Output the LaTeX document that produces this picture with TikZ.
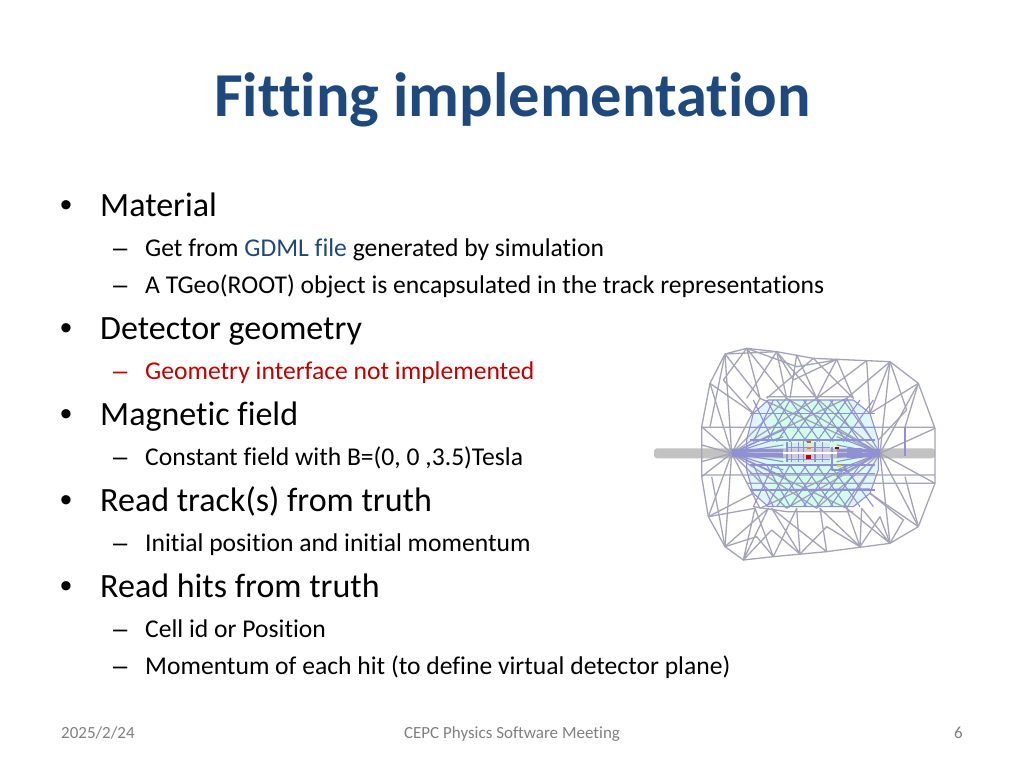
\documentclass[tikz,border=0pt]{standalone}
\usepackage{fontspec}
\setmainfont[Ligatures=NoCommon]{Carlito}
\newfontfamily\arialish{Liberation Sans}
\definecolor{titleblue}{HTML}{1F497D}
\definecolor{redtxt}{HTML}{C00000}
\definecolor{footgray}{HTML}{808080}
\definecolor{wire}{HTML}{A4A4B6}
\definecolor{wireb}{HTML}{9090D4}
\tikzset{
 titletxt/.style={anchor=base west,inner sep=0,font=\fontsize{62.5}{62.5}\selectfont\bfseries,text=titleblue},
 lvla/.style={anchor=base west,inner sep=0,font=\fontsize{34}{34}\selectfont},
 lvlb/.style={anchor=base west,inner sep=0,font=\fontsize{25.6}{25.6}\selectfont},
 bul/.style={anchor=base west,inner sep=0,font=\fontsize{34}{34}\selectfont\arialish},
 dsh/.style={anchor=base west,inner sep=0,font=\fontsize{25.6}{25.6}\selectfont\arialish},
 foot/.style={anchor=base,inner sep=0,font=\fontsize{17}{17}\selectfont,text=footgray},
 wa/.style={draw=wire,line width=1.3pt,line join=round},
 wb/.style={draw=wireb,line width=1.1pt,line join=round},
}
\begin{document}
\begin{tikzpicture}[x=1pt,y=-1pt]
\useasboundingbox (0,0) rectangle (1024,768);
\fill[white] (0,0) rectangle (1024,768);
\node[titletxt] (title) at (214,116) {Fitting implementation};
\node[bul] (b1) at (60,216) {•}; \node[lvla] (t1) at (100,216) {Material};
\node[dsh] (d11) at (113,256) {–}; \node[lvlb] (s11) at (145,256) {Get from \textcolor{titleblue}{GDML file} generated by simulation};
\node[dsh] (d12) at (113,293) {–}; \node[lvlb] (s12) at (145,293) {A TGeo(ROOT) object is encapsulated in the track representations};
\node[bul] (b2) at (60,339) {•}; \node[lvla] (t2) at (100,339) {Detector geometry};
\node[dsh,text=redtxt] (d21) at (113,379) {–}; \node[lvlb,text=redtxt] (s21) at (145,379) {Geometry interface not implemented};
\node[bul] (b3) at (60,425) {•}; \node[lvla] (t3) at (100,425) {Magnetic field};
\node[dsh] (d31) at (113,465) {–}; \node[lvlb] (s31) at (145,465) {Constant field with B=(0, 0 ,3.5)Tesla};
\node[bul] (b4) at (60,511) {•}; \node[lvla] (t4) at (100,511) {Read track(s) from truth};
\node[dsh] (d41) at (113,551) {–}; \node[lvlb] (s41) at (145,551) {Initial position and initial momentum};
\node[bul] (b5) at (60,597) {•}; \node[lvla] (t5) at (100,597) {Read hits from truth};
\node[dsh] (d51) at (113,637) {–}; \node[lvlb] (s51) at (145,637) {Cell id or Position};
\node[dsh] (d52) at (113,674) {–}; \node[lvlb] (s52) at (145,674) {Momentum of each hit (to define virtual detector plane)};
\node[foot,anchor=base west] (f1) at (61,738) {2025/2/24};
\node[foot] (f2) at (512,738) {CEPC Physics Software Meeting};
\node[foot,anchor=base east] (f3) at (963,738) {6};
\begin{scope}[shift={(640,330)},x=0.3333pt,y=-0.3333pt]
% tinted interior
\fill[blue!30!cyan!12] (320,330) -- (340,250) -- (385,210) -- (640,210) -- (690,250) -- (715,330) -- (715,420) -- (690,490) -- (640,530) -- (385,530) -- (340,490) -- (320,420) -- cycle;
\fill[green!50!cyan!18] (410,212) -- (610,212) -- (640,270) -- (640,480) -- (610,528) -- (410,528) -- (390,470) -- (390,270) -- cycle;
% beam
\fill[black!24,rounded corners=3pt] (42,355) rectangle (885,385);
% outer wires
\draw[wa] (185,290) -- (210,160) -- (255,72) -- (320,55) -- (410,65) -- (520,85) -- (750,95) -- (835,160) -- (885,295) -- (885,460) -- (835,590) -- (750,640) -- (560,665) -- (400,680) -- (310,690) -- (255,650) -- (205,560) -- (185,440) -- cycle;
\draw[wa] (185,292) -- (885,292) (185,435) -- (885,435) (320,460) -- (885,460) (185,345) -- (275,370) (185,395) -- (275,370);
\draw[wa] (185,290) -- (275,370) -- (185,440) (210,160) -- (275,370) -- (205,560);
\draw[wa] (255,72) -- (275,370) -- (255,650);
\draw[wa] (885,295) -- (720,370) -- (885,460) (835,160) -- (720,370) -- (835,590);
\draw[wa] (750,95) -- (720,370) -- (750,640);
% zigzag top, through to the interior
\draw[wa] (255,72) -- (360,205) -- (320,55) -- (440,205) -- (410,65) -- (530,205) -- (470,75) -- (450,205) (520,85) -- (640,205) -- (590,88) -- (530,205) -- (680,92) -- (690,250) -- (750,95) -- (620,205);
\draw[wa] (255,72) -- (410,65) (320,55) -- (470,110) -- (600,88) (410,65) -- (320,205) (520,85) -- (380,205) (410,65) -- (460,150) -- (590,88);
% zigzag bottom
\draw[wa] (255,650) -- (385,535) -- (310,690) -- (345,535) -- (400,680) -- (470,535) -- (480,672) -- (395,535) -- (560,665) -- (540,535) -- (660,650) -- (620,535) -- (750,640) -- (665,535) -- (660,650);
\draw[wa] (310,690) -- (395,600) -- (480,672) -- (560,590) -- (660,650) -- (720,560) -- (750,640) (205,560) -- (345,535) (255,650) -- (350,620) -- (400,680);
% side triangles
\draw[wa] (210,160) -- (340,250) (835,160) -- (690,250) (205,560) -- (340,490) (835,590) -- (690,490);
\draw[wa] (255,72) -- (210,290) (255,650) -- (215,440) (835,160) -- (795,292) (835,590) -- (795,440);
\draw[wa] (320,55) -- (250,150) -- (340,250) (750,640) -- (790,570) -- (690,490);
\draw[wa] (750,95) -- (800,240) -- (715,330) (340,530) -- (440,545) -- (640,545) (380,200) -- (640,200);
% through lines top/bottom to the hubs
\foreach \a in {360,440,530,620}{
 \draw[wa] (\a,205) -- (275,370) (\a,205) -- (720,370);
 \draw[wa] (\a,535) -- (275,370) (\a,535) -- (720,370);}
% inner wires
\draw[wb] (320,330) -- (340,250) -- (385,210) -- (640,210) -- (690,250) -- (715,330) -- (715,420) -- (690,490) -- (640,530) -- (385,530) -- (340,490) -- (320,420) -- cycle;
\foreach \y in {250,292,330,405,430,480}{\draw[wb] (330,\y) -- (705,\y);}
\foreach \yy in {300,320,345,358,382,395,420,440}{
 \draw[wb] (275,370) -- (430,\yy);
 \draw[wb] (720,370) -- (590,\yy);}
\foreach \yy in {360,365,370,375,380}{
 \draw[wb] (275,\yy) -- (430,\yy);
 \draw[wb] (590,\yy) -- (720,\yy);}
\fill[wireb] (620,355) rectangle (665,385);
\fill[wireb] (275,358) rectangle (300,382);
\foreach \a/\b in {340/400,380/450,410/500,450/540,490/580,530/620,570/660,610/700}{
 \draw[wb] (\a,210) -- (\b,335);
 \draw[wb] (\b,210) -- (\a,335);
 \draw[wb] (\a,530) -- (\b,405);
 \draw[wb] (\b,530) -- (\a,405);}
\draw[wb,line width=1.8pt] (795,292) -- (795,378);
\draw[wb,line width=1.8pt] (575,350) -- (575,420) -- (620,420);
\draw[wb,line width=1.8pt] (440,335) -- (440,395);
\draw[wb,line width=1.8pt] (360,480) -- (690,478);
% centre detail
\fill[white!65!wireb,opacity=.5] (445,340) rectangle (570,400);
\foreach \x in {455,475,490,525,548}{\draw[wb] (\x,335) -- (\x,395);}
\draw[wb] (445,352) -- (570,352) (445,388) -- (570,388);
\fill[white] (430,366) rectangle (590,372);
\fill[red!75!black] (497,374) rectangle (513,387);
\fill[orange!80!black] (500,333) rectangle (512,340);
\fill[red!50!yellow] (500,350) rectangle (512,356);
\fill[red!60!black] (584,352) rectangle (596,358);
\fill[yellow!70!orange] (590,405) rectangle (602,411);
\end{scope}
\end{tikzpicture}
\end{document}
